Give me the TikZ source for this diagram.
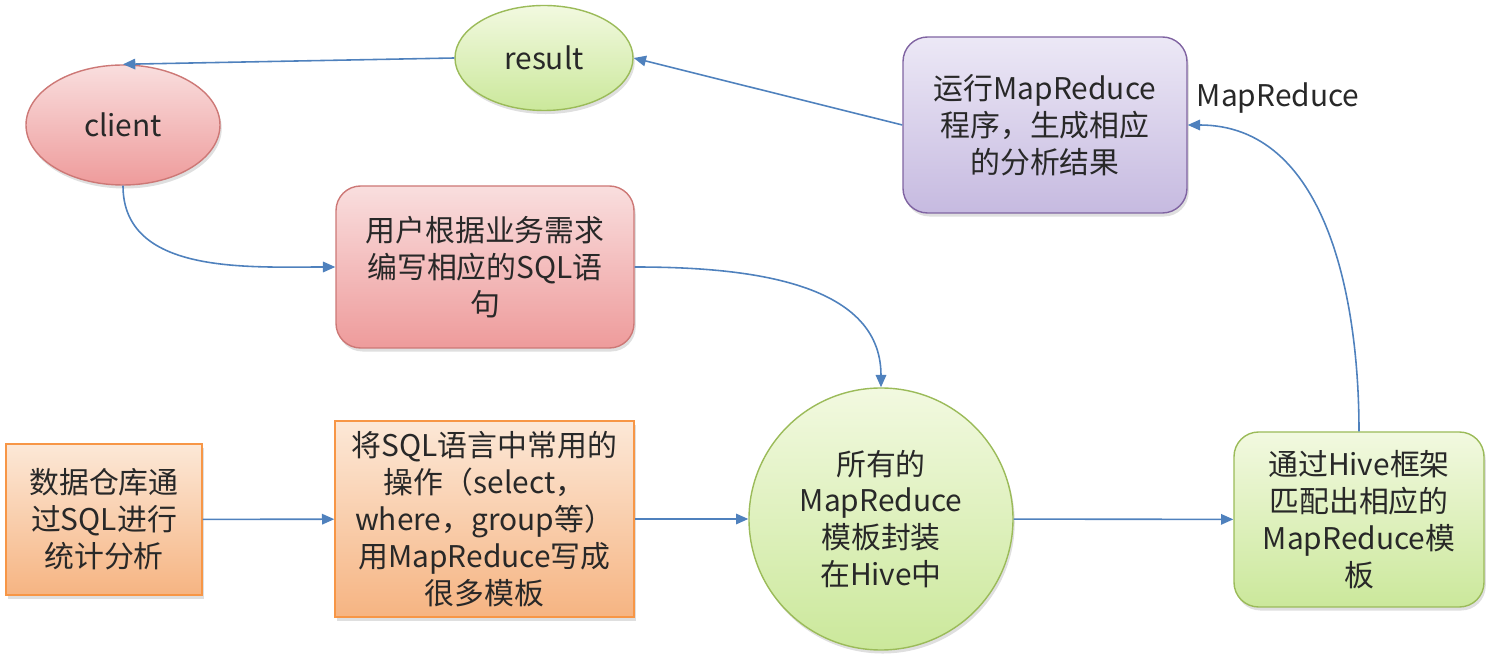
\documentclass[tikz,border=0pt]{standalone}
\usepackage{fontspec}
\setmainfont{Noto Sans CJK SC}
\usepackage{tikz}
\usetikzlibrary{positioning, arrows.meta, shapes.geometric, shadows}
\definecolor{flow}{RGB}{79,129,189}
\definecolor{inktext}{RGB}{40,40,40}
\definecolor{redtop}{RGB}{249,222,222}
\definecolor{redbot}{RGB}{238,155,155}
\definecolor{redline}{RGB}{205,120,118}
\definecolor{greentop}{RGB}{242,249,224}
\definecolor{greenbot}{RGB}{203,232,155}
\definecolor{greenline}{RGB}{155,187,89}
\definecolor{purpletop}{RGB}{236,232,246}
\definecolor{purplebot}{RGB}{198,186,224}
\definecolor{purpleline}{RGB}{128,100,162}
\definecolor{orangetop}{RGB}{252,232,215}
\definecolor{orangebot}{RGB}{246,180,130}
\definecolor{orangeline}{RGB}{247,150,70}

\begin{document}
\begin{tikzpicture}[
  font=\fontsize{17}{21}\selectfont, text=inktext,
  blob/.style={
    align=center, inner sep=0pt, line width=0.8pt,
    drop shadow={shadow xshift=1pt, shadow yshift=-2pt, opacity=0.25}
  },
  redblob/.style={blob, draw=redline, top color=redtop, bottom color=redbot},
  greenblob/.style={blob, draw=greenline, top color=greentop, bottom color=greenbot},
  purpleblob/.style={blob, draw=purpleline, top color=purpletop, bottom color=purplebot},
  orangeblob/.style={blob, draw=orangeline, top color=orangetop, bottom color=orangebot},
  oval/.style={ellipse},
  roundbox/.style={rectangle, rounded corners=14pt},
  flowline/.style={-{Triangle[length=7pt,width=6pt]}, flow, line width=0.9pt}
]
\useasboundingbox (0,0) rectangle (29.92,13.16);

% top part
\node[redblob, oval, minimum width=3.88cm, minimum height=2.4cm] (client) at (2.46,10.66) {client};
\node[greenblob, oval, minimum width=3.56cm, minimum height=2.1cm] (result) at (10.88,12.0) {result};
\node[purpleblob, roundbox, minimum width=5.68cm, minimum height=3.52cm] (run) at (20.9,10.66)
  {运行MapReduce\\程序，生成相应\\的分析结果};
\node (mrlabel) at (25.56,11.2) {MapReduce};
\node[redblob, roundbox, minimum width=5.96cm, minimum height=3.24cm] (sql) at (9.7,7.82)
  {用户根据业务需求\\编写相应的SQL语\\句};

% bottom row
\node[orangeblob, rectangle, minimum width=3.92cm, minimum height=3.02cm] (dw) at (2.08,2.77)
  {数据仓库通\\过SQL进行\\统计分析};
\node[orangeblob, rectangle, minimum width=5.98cm, minimum height=3.92cm] (tmpl) at (9.69,2.78)
  {将SQL语言中常用的\\操作（select，\\where，group等）\\用MapReduce写成\\很多模板};
\node[greenblob, oval, minimum width=5.28cm, minimum height=5.24cm] (hive) at (17.62,2.78)
  {所有的\\MapReduce\\模板封装\\在Hive中};
\node[greenblob, roundbox, minimum width=5.0cm, minimum height=3.5cm] (match) at (27.18,2.77)
  {通过Hive框架\\匹配出相应的\\MapReduce模\\板};

% connectors
\draw[flowline] (dw) -- (tmpl);
\draw[flowline] (tmpl) -- (hive);
\draw[flowline] (hive) -- (match);
\draw[flowline] (match.north) to[out=90, in=0] (run.east);
\draw[flowline] (run.west) -- (result.east);
\draw[flowline] (result.west) -- (client.north);
\draw[flowline] (client.south) to[out=-90, in=180] (sql.west);
\draw[flowline] (sql.east) to[out=0, in=90] (hive.north);

\end{tikzpicture}
\end{document}
